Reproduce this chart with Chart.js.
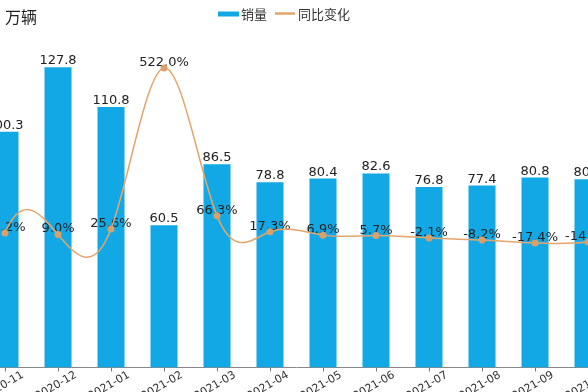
<!DOCTYPE html>
<html>
<head>
<meta charset="utf-8">
<script src="https://cdn.jsdelivr.net/npm/chart.js@4.4.1/dist/chart.umd.min.js"></script>
<style>
html, body { margin: 0; padding: 0; background: #fff; overflow: hidden; width: 588px; height: 392px; }
#wrap { position: absolute; left: -60px; top: 0; width: 720px; height: 420px; }
</style>
</head>
<body>
<div id="wrap"><canvas id="chart" width="720" height="420"></canvas></div>
<script>
const months = ['2020-11', '2020-12', '2021-01', '2021-02', '2021-03', '2021-04',
                '2021-05', '2021-06', '2021-07', '2021-08', '2021-09', '2021-10'];
const sales = [100.3, 127.8, 110.8, 60.5, 86.5, 78.8, 80.4, 82.6, 76.8, 77.4, 80.8, 80.1];
const yoy = [13.2, 9.0, 25.6, 522.0, 66.3, 17.3, 6.9, 5.7, -2.1, -8.2, -17.4, -14.5];

const BLUE = '#12a8e6';
const ORANGE = '#e3a56c';
const SHIFT = 60; // canvas sits 60px left of the page

// cubic spline (not-a-knot) through the line points, like the original
function splineM(ys, h) {
    const n = ys.length;
    const A = [], b = [];
    for (let i = 0; i < n; i++) { A.push(new Array(n).fill(0)); b.push(0); }
    A[0][0] = 1; A[0][1] = -2; A[0][2] = 1;
    for (let i = 1; i < n - 1; i++) {
        A[i][i - 1] = 1; A[i][i] = 4; A[i][i + 1] = 1;
        b[i] = 6 * (ys[i + 1] - 2 * ys[i] + ys[i - 1]) / (h * h);
    }
    A[n - 1][n - 3] = 1; A[n - 1][n - 2] = -2; A[n - 1][n - 1] = 1;
    for (let k = 0; k < n; k++) {
        let p = k;
        for (let i = k + 1; i < n; i++) if (Math.abs(A[i][k]) > Math.abs(A[p][k])) p = i;
        [A[k], A[p]] = [A[p], A[k]];
        [b[k], b[p]] = [b[p], b[k]];
        for (let i = k + 1; i < n; i++) {
            const f = A[i][k] / A[k][k];
            for (let j = k; j < n; j++) A[i][j] -= f * A[k][j];
            b[i] -= f * b[k];
        }
    }
    const M = new Array(n).fill(0);
    for (let i = n - 1; i >= 0; i--) {
        let s = b[i];
        for (let j = i + 1; j < n; j++) s -= A[i][j] * M[j];
        M[i] = s / A[i][i];
    }
    return M;
}

const splinePlugin = {
    id: 'spline',
    beforeDatasetDraw(chart, args) {
        const meta = args.meta;
        if (meta.type !== 'line') return;
        meta.dataset.updateControlPoints(chart.chartArea, 'x');
        const pts = meta.data;
        const n = pts.length;
        const h = pts[1].x - pts[0].x;
        const ys = pts.map(p => p.y);
        const M = splineM(ys, h);
        for (let i = 0; i < n; i++) {
            let m;
            if (i < n - 1) m = (ys[i + 1] - ys[i]) / h - h * (2 * M[i] + M[i + 1]) / 6;
            else m = (ys[i] - ys[i - 1]) / h + h * (M[i - 1] + 2 * M[i]) / 6;
            pts[i].cp1x = pts[i].x - h / 3;
            pts[i].cp1y = ys[i] - m * h / 3;
            pts[i].cp2x = pts[i].x + h / 3;
            pts[i].cp2y = ys[i] + m * h / 3;
        }
    }
};

// value labels, drawn after the bars and before the line
const labelPlugin = {
    id: 'labels',
    afterDatasetDraw(chart, args) {
        if (args.meta.type !== 'bar') return;
        const ctx = chart.ctx;
        ctx.save();
        ctx.font = '13px "DejaVu Sans"';
        ctx.fillStyle = '#222';
        ctx.textAlign = 'center';
        ctx.textBaseline = 'alphabetic';
        args.meta.data.forEach((el, i) => {
            ctx.fillText(sales[i].toFixed(1), el.x, el.y - 3);
        });
        const lineMeta = chart.getDatasetMeta(1);
        lineMeta.data.forEach((el, i) => {
            ctx.fillText(yoy[i].toFixed(1) + '%', el.x, el.y - 2);
        });
        ctx.restore();
    }
};

// legend + unit text
const legendPlugin = {
    id: 'myLegend',
    afterDraw(chart) {
        const ctx = chart.ctx;
        ctx.save();
        ctx.fillStyle = '#222';
        ctx.font = '16px "Noto Sans CJK SC"';
        ctx.textBaseline = 'middle';
        ctx.fillText('万辆', 5 + SHIFT, 17);

        ctx.font = '13px "Noto Sans CJK SC"';
        ctx.fillStyle = BLUE;
        ctx.fillRect(218 + SHIFT, 11.5, 21, 5);
        ctx.fillStyle = '#333';
        ctx.fillText('销量', 241 + SHIFT, 14);
        ctx.strokeStyle = ORANGE;
        ctx.lineWidth = 2.5;
        ctx.beginPath();
        ctx.moveTo(275 + SHIFT, 13.5);
        ctx.lineTo(295 + SHIFT, 13.5);
        ctx.stroke();
        ctx.fillText('同比变化', 298 + SHIFT, 14);
        ctx.restore();
    }
};

new Chart(document.getElementById('chart').getContext('2d'), {
    type: 'bar',
    data: {
        labels: months,
        datasets: [{
            type: 'bar',
            label: '销量',
            data: sales,
            backgroundColor: BLUE,
            yAxisID: 'y',
            order: 2,
            categoryPercentage: 1,
            barPercentage: 0.51
        }, {
            type: 'line',
            label: '同比变化',
            data: yoy,
            borderColor: ORANGE,
            borderWidth: 1.5,
            pointRadius: 3.5,
            pointBackgroundColor: '#d9a16a',
            pointBorderWidth: 0,
            tension: 0.4,
            yAxisID: 'y1',
            order: 1
        }]
    },
    options: {
        responsive: false,
        animation: false,
        devicePixelRatio: 1,
        layout: { padding: { left: 38.5, right: 45.5, top: 26.75, bottom: 12.5 } },
        plugins: { legend: { display: false }, tooltip: { enabled: false } },
        scales: {
            x: {
                offset: true,
                grid: { drawOnChartArea: false, offset: false, tickLength: 4, color: '#777' },
                border: { color: '#888' },
                ticks: {
                    font: { family: 'DejaVu Sans', size: 11 },
                    color: '#333',
                    minRotation: 30,
                    maxRotation: 30,
                    padding: -3,
                    labelOffset: 18,
                    autoSkip: false
                },
                afterFit: s => { s.height = 40; }
            },
            y: { display: false, min: 0, max: 145 },
            y1: { display: false, min: -401, max: 649 }
        }
    },
    plugins: [splinePlugin, labelPlugin, legendPlugin]
});
</script>
</body>
</html>
